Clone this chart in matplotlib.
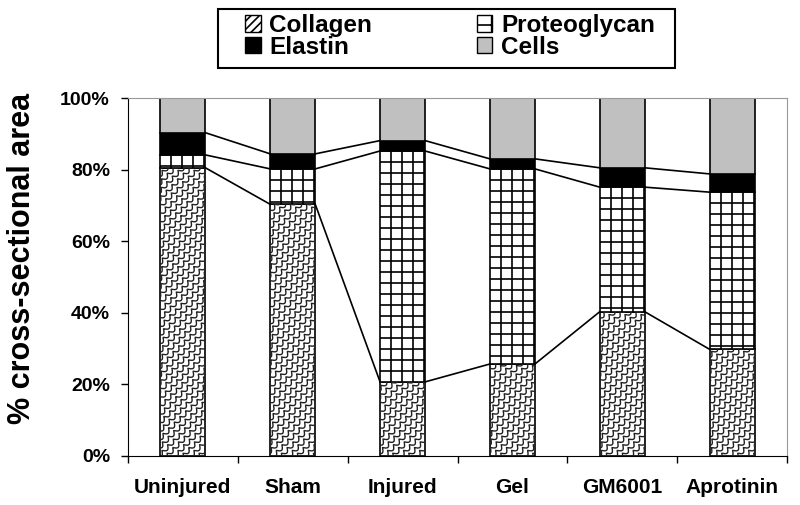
import numpy as np
import matplotlib
matplotlib.use("Agg")
import matplotlib.pyplot as plt
from matplotlib.patches import Patch, Rectangle

plt.rcParams["font.family"] = ["Liberation Sans", "DejaVu Sans"]
plt.rcParams["font.weight"] = "bold"
plt.rcParams["hatch.linewidth"] = 1.2

groups = ["Uninjured", "Sham", "Injured", "Gel", "GM6001", "Aprotinin"]
collagen = [80.5, 70.3, 20.7, 25.7, 40.3, 29.8]
proteoglycan = [3.6, 9.9, 64.5, 54.5, 34.8, 43.9]
elastin = [6.2, 4.2, 2.9, 2.8, 5.4, 5.1]
cells = [100 - a - b - c for a, b, c in zip(collagen, proteoglycan, elastin)]
yticks = [0, 20, 40, 60, 80, 100]

W, H, DPI = 800, 505, 100
fig = plt.figure(figsize=(W / DPI, H / DPI), dpi=DPI)
ax = fig.add_axes([128 / W, 1 - 456 / H, 659 / W, 358 / H])

x = np.arange(len(groups))
bw = 0.41
c = np.array(collagen)
p = np.array(proteoglycan)
e = np.array(elastin)
s = np.array(cells)

b_col = ax.bar(x, c, bw, color="white", edgecolor="black", lw=1.2, zorder=2)
b_pg = ax.bar(x, p, bw, bottom=c, color="white", edgecolor="black", lw=1.2, zorder=2)
ax.bar(x, e, bw, bottom=c + p, color="black", edgecolor="black", lw=1.2, zorder=2)
ax.bar(x, s, bw, bottom=c + p + e, color="#c0c0c0", edgecolor="black", lw=1.2, zorder=2)

ax.set_xlim(-0.5, len(groups) - 0.5)
ax.set_ylim(0, 100)

# pixel size of one data unit
pxx = 659 / len(groups)
pxy = 358 / 100

# scalloped texture for collagen, drawn in pixels and clipped to each bar
step = 8.0
for i, rect in enumerate(b_col.patches):
    x0 = x[i] - bw / 2
    wpx = bw * pxx
    hpx = c[i] * pxy
    u = np.linspace(0, (wpx + hpx) * 1.5 + 20, 1200)
    for n, k in enumerate(np.arange(-hpx - 20, wpx + 20, step)):
        bump = 3.8 * np.abs(np.sin(u * np.pi / 8.0 + n * np.pi / 2))
        xx = k + u / np.sqrt(2) + bump / np.sqrt(2)
        yy = u / np.sqrt(2) - bump / np.sqrt(2)
        ln, = ax.plot(x0 + xx / pxx, yy / pxy, color="#222222", lw=1.0, zorder=2.5)
        ln.set_clip_path(rect)

# square grid for proteoglycan
gs = 11.0
for i, rect in enumerate(b_pg.patches):
    x0 = x[i] - bw / 2
    y0 = c[i]
    wpx = bw * pxx
    hpx = p[i] * pxy
    for gx in np.arange(gs, wpx, gs):
        ln, = ax.plot([x0 + gx / pxx] * 2, [y0, y0 + p[i]], color="black", lw=1.2, zorder=2.5)
        ln.set_clip_path(rect)
    for gy in np.arange(hpx - gs, 0, -gs):
        ln, = ax.plot([x0, x0 + bw], [y0 + gy / pxy] * 2, color="black", lw=1.2, zorder=2.5)
        ln.set_clip_path(rect)

# series lines between bars
for tops in (c, c + p, c + p + e):
    for i in range(len(groups) - 1):
        ax.plot([x[i] + bw / 2, x[i + 1] - bw / 2], [tops[i], tops[i + 1]],
                color="black", lw=1.2, zorder=3)

ax.set_yticks(yticks)
ax.set_yticklabels([f"{v}%" for v in yticks], fontsize=14, fontweight="bold")
ax.tick_params(axis="y", direction="out", length=5, width=1, pad=8)
ax.set_xticks(x)
ax.set_xticklabels(groups, fontsize=15, fontweight="bold")
ax.tick_params(axis="x", which="major", length=0, pad=16)
ax.set_xticks(np.arange(-0.5, len(groups)), minor=True)
ax.tick_params(axis="x", which="minor", direction="out", length=5, width=1)

for side in ("top", "right"):
    ax.spines[side].set_color("#999999")
for side in ("left", "bottom"):
    ax.spines[side].set_color("black")

fig.text(22 / W, 1 - 258 / H, "% cross-sectional area", rotation=90,
         ha="center", va="center", fontsize=22, fontweight="bold")

# legend box drawn separately so the padding matches
fig.add_artist(Rectangle((218 / W, 1 - 68 / H), 457 / W, 59 / H,
                         transform=fig.transFigure, facecolor="white",
                         edgecolor="black", lw=1.5, zorder=1))
handles = [
    Patch(facecolor="white", edgecolor="black", hatch="////"),
    Patch(facecolor="black", edgecolor="black"),
    Patch(facecolor="white", edgecolor="black", hatch="+"),
    Patch(facecolor="#c0c0c0", edgecolor="black"),
]
labels = ["Collagen", "Elastin", "Proteoglycan", "Cells"]
leg = fig.legend(handles, labels, ncol=2, loc="upper left",
                 bbox_to_anchor=(245 / W, 1 - 14 / H),
                 prop={"size": 17.5, "weight": "bold"},
                 frameon=False,
                 handlelength=0.65, handleheight=0.65, handletextpad=0.35,
                 columnspacing=4.3, labelspacing=-0.05, borderpad=0,
                 borderaxespad=0)
leg.set_zorder(2)

fig.savefig("out.png", dpi=DPI)
